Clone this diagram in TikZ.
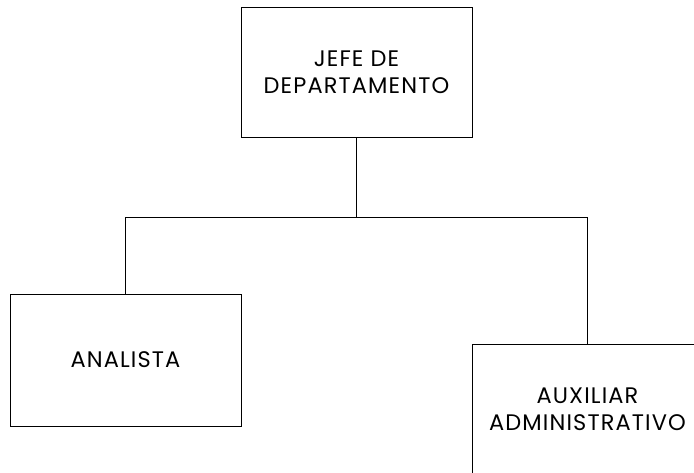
\documentclass[tikz,border=0pt]{standalone}
\usepackage{fontspec}
\setmainfont{Poppins}[LetterSpace=5]
\usepackage{tikz}
\usetikzlibrary{positioning}

\tikzset{
  puesto/.style={draw, line width=1pt, minimum width=231pt, minimum height=130pt, align=center, inner sep=0pt, font=\fontsize{22.5}{27}\selectfont},
  linea/.style={line width=1pt}
}

\begin{document}
\begin{tikzpicture}[x=1pt, y=-1pt]

\useasboundingbox (0,0) rectangle (694,472);
\clip (0,0) rectangle (694,472);

\node (jefe) [puesto] at (356.5,72) {JEFE DE\\DEPARTAMENTO};

\node (analista) [puesto, minimum height=132pt] at (125.5,360) {ANALISTA};

\node (auxiliar) [puesto] at (587.5,409) {AUXILIAR\\ADMINISTRATIVO};

\coordinate (bus) at (356.5,217.5);

\draw [linea] (jefe.south) -- (bus);
\draw [linea] (analista.north) |- (bus) -| (auxiliar.north);

\end{tikzpicture}
\end{document}
